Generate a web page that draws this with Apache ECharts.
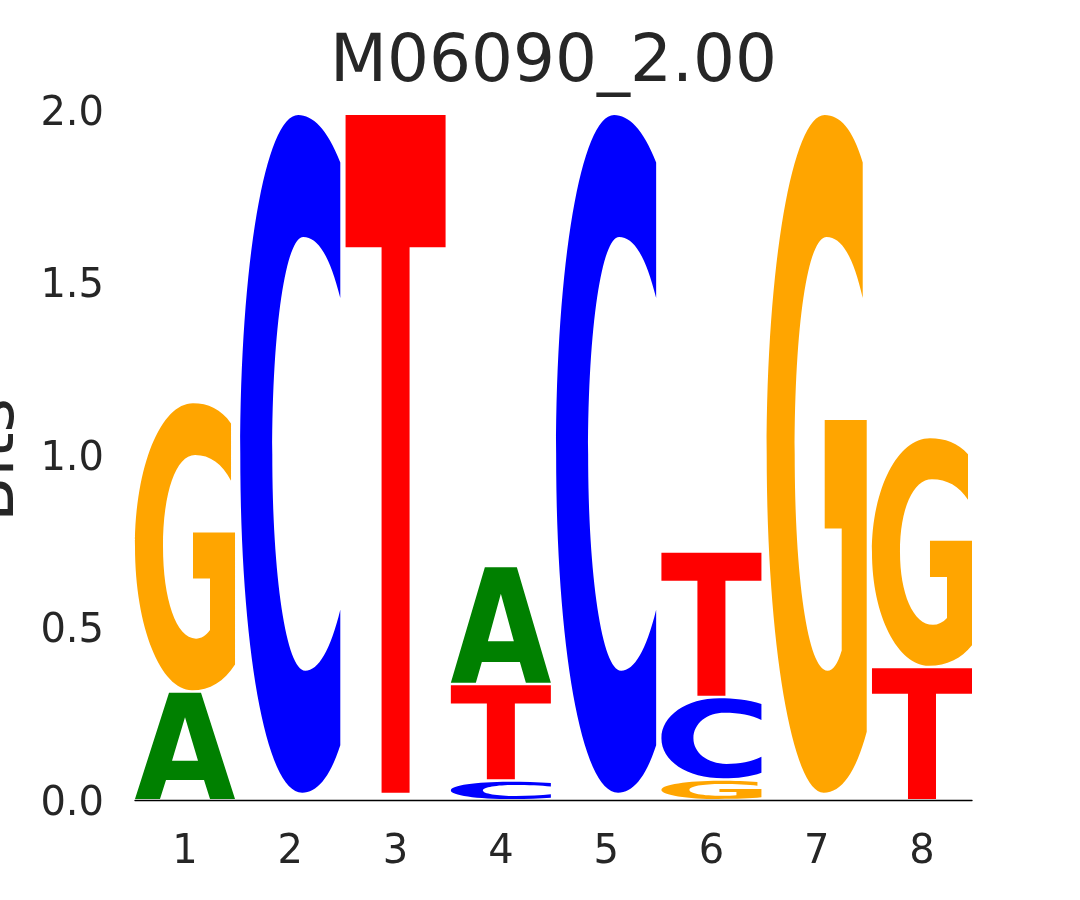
<!DOCTYPE html>
<html><head><meta charset="utf-8">
<script src="https://cdn.jsdelivr.net/npm/echarts@6/dist/echarts.min.js"></script>
<style>html,body{margin:0;padding:0;background:#fff}#chart{width:1080px;height:900px}</style>
</head><body><div id="chart"></div>
<script>
// ---- data ----
const titleText = 'M06090_2.00';
const yAxisName = 'Bits';
const positions = [1, 2, 3, 4, 5, 6, 7, 8];
const xTickLabels = ['1', '2', '3', '4', '5', '6', '7', '8'];
const yTickValues = [0, 0.5, 1.0, 1.5, 2.0];
const letters = ['A', 'C', 'G', 'T'];
const heightA = [0.315, 0.006, 0.006, 0.342, 0.006, 0, 0.006, 0];
const heightC = [0, 1.972, 0.006, 0.057, 1.972, 0.239, 0.006, 0];
const heightG = [0.839, 0.006, 0.006, 0, 0.006, 0.060, 1.972, 0.667];
const heightT = [0, 0.006, 1.972, 0.280, 0.006, 0.422, 0.006, 0.386];

// ---- styles ----
const letterColors = { A: '#008000', C: '#0000ff', G: '#ffa500', T: '#ff0000' };
const glyphs = {
  A: 'M0 100 L34 0 L66 0 L100 100 L75 100 L69 82 L31 82 L25 100 Z M37 64 L63 64 L50 23 Z',
  C: 'M100 7 C87 2 72 0 58 0 C25 0 0 22 0 50 C0 78 25 100 62 100 C76 100 89 98 100 93 L100 73 C90 79 78 82 65 82 C46 82 32 68 32 50 C32 31 46 18 63 18 C78 18 90 21 100 27 Z',
  G: 'M96 7 C86 2 73 0 58 0 C26 0 0 22 0 50 C0 78 26 100 57 100 C75 100 89 97 100 91 L100 45 L58 45 L58 61 L75 61 L75 79 C71 81 66 82 61 82 C41 82 28 68 28 50 C28 31 41 18 60 18 C75 18 87 21 96 27 Z',
  T: 'M0 0 L100 0 L100 19.5 L64 19.5 L64 100 L36 100 L36 19.5 L0 19.5 Z'
};
const letterWidth = 0.95;
const FONT = '"DejaVu Sans", sans-serif';
const TXT = '#262626';

const heights = { A: heightA, C: heightC, G: heightG, T: heightT };
const stackData = [];
positions.forEach((p, i) => {
  const items = letters.map((L, li) => ({ L, li, h: heights[L][i] })).filter(d => d.h > 0);
  items.sort((a, b) => a.h - b.h);
  let cum = 0;
  items.forEach(d => {
    stackData.push([p, cum, cum + d.h, d.li]);
    cum += d.h;
  });
});

function glyphPath(d, x0, y0, w, h) {
  return d.replace(/(-?\d+(?:\.\d+)?)\s+(-?\d+(?:\.\d+)?)/g, (m, a, b) =>
    (x0 + parseFloat(a) / 100 * w).toFixed(2) + ' ' + (y0 + parseFloat(b) / 100 * h).toFixed(2));
}

const chart = echarts.init(document.getElementById('chart'), null, { renderer: 'canvas' });
chart.setOption({
  backgroundColor: '#ffffff',
  animation: false,
  grid: { left: 135, right: 108, top: 110, bottom: 100 },
  graphic: [
    { type: 'text', x: 553.5, y: 63.5, style: { text: titleText, font: '66px ' + FONT, fill: TXT, textAlign: 'center', textVerticalAlign: 'middle' } },
    { type: 'text', x: -4.6, y: 460, rotation: Math.PI / 2, style: { text: yAxisName, font: '66px ' + FONT, fill: TXT, textAlign: 'center', textVerticalAlign: 'middle' } }
  ],
  xAxis: {
    type: 'value', min: 0.525, max: 8.475,
    axisLine: { show: true, lineStyle: { color: '#000000', width: 1.4 } },
    axisTick: { show: false },
    splitLine: { show: false },
    axisLabel: {
      customValues: positions,
      formatter: v => xTickLabels[positions.indexOf(v)] || '',
      color: TXT, fontSize: 40, fontFamily: FONT, margin: 33
    }
  },
  yAxis: {
    type: 'value', min: 0, max: 2, interval: 0.5,
    axisLine: { show: false }, axisTick: { show: false }, splitLine: { show: false },
    axisLabel: {
      customValues: yTickValues,
      formatter: v => '{t|' + v.toFixed(1) + '}',
      margin: 31,
      rich: { t: { color: TXT, fontSize: 40, fontFamily: FONT, padding: [9, 0, 0, 0] } }
    }
  },
  series: [{
    type: 'custom',
    data: stackData,
    encode: { x: 0, y: [1, 2] },
    renderItem: function (params, api) {
      const x = api.value(0), b = api.value(1), t = api.value(2), li = api.value(3);
      const L = letters[li];
      const pTop = api.coord([x - letterWidth / 2, t]);
      const pBot = api.coord([x + letterWidth / 2, b]);
      const x0 = pTop[0], x1 = pBot[0];
      const yT = pTop[1] + 1.5, yB = pBot[1] - 1;
      if (yB - yT < 1) return { type: 'group', children: [] };
      return {
        type: 'path',
        shape: { pathData: glyphPath(glyphs[L], x0, yT, x1 - x0, yB - yT) },
        style: { fill: letterColors[L], stroke: null }
      };
    }
  }]
});
</script></body></html>
